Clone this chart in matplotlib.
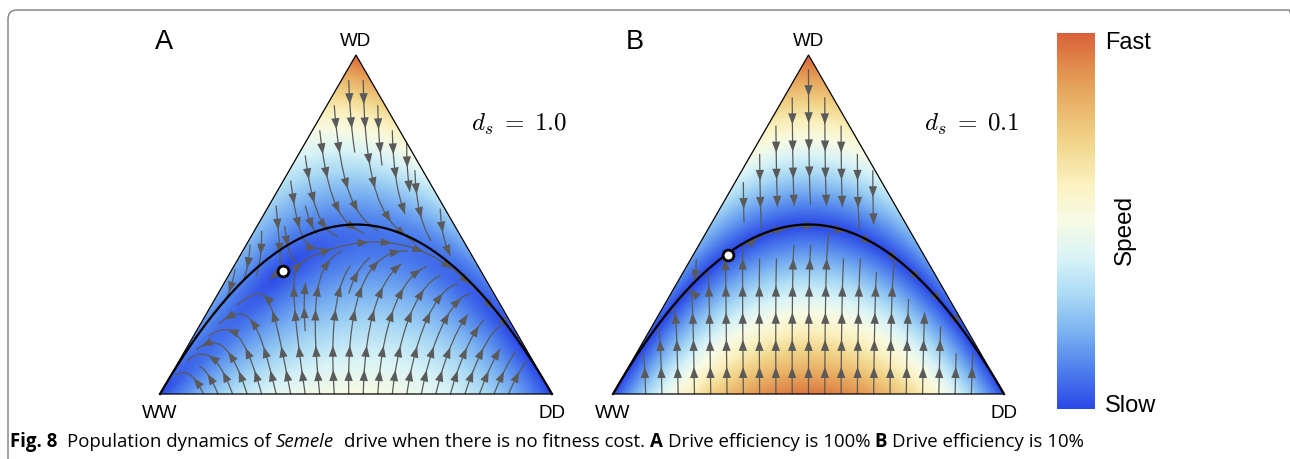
"""Semele drive dynamics on the genotype simplex: speed map + streamlines."""

import numpy as np
import matplotlib
matplotlib.use("Agg")
import matplotlib.pyplot as plt
from matplotlib.colors import LinearSegmentedColormap, Normalize
from matplotlib.cm import ScalarMappable
from matplotlib.patches import Polygon, FancyBboxPatch
from matplotlib.transforms import IdentityTransform

W, H = 1290, 459

panel_labels = ["A", "B"]
drive_efficiency = [1.0, 0.1]
ds_labels = [r"$d_s\;=\;1.0$", r"$d_s\;=\;0.1$"]
corner_labels = ["WW", "WD", "DD"]
# unstable equilibrium (WD, DD frequencies)
unstable_wd = [0.363, 0.41]
unstable_dd = [0.133, 0.089]
speed_colors = ["#2b47e6", "#4c7eec", "#79b0f1", "#a9d9f4", "#d8f3f7",
                "#f7fbe4", "#fbf1c0", "#f2d88e", "#eab86c", "#e2924f", "#d8613a"]
cbar_ends = ["Slow", "Fast"]
cbar_title = "Speed"
caption_runs = [
    ("Fig. 8", "bold", "normal"),
    ("  Population dynamics of ", "normal", "normal"),
    ("Semele", "normal", "italic"),
    ("  drive when there is no fitness cost. ", "normal", "normal"),
    ("A", "bold", "normal"),
    (" Drive efficiency is 100% ", "normal", "normal"),
    ("B", "bold", "normal"),
    (" Drive efficiency is 10%", "normal", "normal"),
]

# pixel frame of each triangle: left x, right x, base y, apex y
panel_px = [(160, 552, 394, 55), (613, 1004, 394, 55)]
stream_density = [0.95, 0.85]

S3 = np.sqrt(3) / 2
cmap = LinearSegmentedColormap.from_list("temperature", speed_colors)
cmap.set_bad((1, 1, 1, 0))
LABEL_FONT = ["Liberation Sans", "DejaVu Sans"]
LINE_GREY = "#5a5a5a"
plt.rcParams["mathtext.fontset"] = "cm"


def px(x, y):
    return x / W, 1 - y / H


def drive_field(X, Y, ds):
    """Velocity (in ternary plot coords) of genotype frequencies under random mating."""
    xwd = Y / S3
    xdd = X - xwd / 2
    xww = 1 - xdd - xwd
    x = [xww, xwd, xdd]
    qa = [0.0, 0.5, 1.0]
    off = [0.0, 0.0, 0.0]
    wbar = 0.0
    for f in range(3):
        for m in range(3):
            w = 1 - ds if (f == 0 and m > 0) else 1.0
            pm = x[f] * x[m] * w
            qf, qm = qa[f], qa[m]
            off[0] = off[0] + pm * (1 - qf) * (1 - qm)
            off[1] = off[1] + pm * (qf * (1 - qm) + (1 - qf) * qm)
            off[2] = off[2] + pm * qf * qm
            wbar = wbar + pm
    v = [off[i] - wbar * x[i] for i in range(3)]
    inside = (xww >= -1e-9) & (xdd >= -1e-9)
    return v[2] + v[1] / 2, v[1] * S3, inside


def add_arrows(ax, lines, clip, spacing=30.0, first=14.0):
    """Arrow heads every `spacing` px along each streamline."""
    to_px = ax.transData
    for seg in lines:
        if len(seg) < 3:
            continue
        p = to_px.transform(seg)
        d = np.hypot(*np.diff(p, axis=0).T)
        s = np.concatenate([[0], np.cumsum(d)])
        for target in np.arange(first, s[-1] - 4, spacing):
            k = np.searchsorted(s, target)
            k = min(max(k, 1), len(seg) - 1)
            a = ax.annotate("", xy=seg[k], xytext=seg[k - 1],
                            arrowprops=dict(arrowstyle="-|>,head_length=0.8,head_width=0.3",
                                            mutation_scale=10, fc=LINE_GREY, ec=LINE_GREY,
                                            lw=0, shrinkA=0, shrinkB=0))
            a.arrow_patch.set_clip_path(clip)


fig = plt.figure(figsize=(W / 100, H / 100), dpi=100)

m = 0.03
for i, ds in enumerate(drive_efficiency):
    l, r, b, t = panel_px[i]
    pw, ph = r - l, b - t
    ax = fig.add_axes([(l - m * pw) / W, (H - b - m * ph) / H,
                       pw * (1 + 2 * m) / W, ph * (1 + 2 * m) / H])
    ax.set_xlim(-m, 1 + m)
    ax.set_ylim(-m * S3, S3 + m * S3)
    ax.axis("off")

    tri = Polygon([[0, 0], [1, 0], [0.5, S3]], closed=True, transform=ax.transData)

    # speed background
    xf = np.linspace(0, 1, 500)
    yf = np.linspace(0, S3, 440)
    XF, YF = np.meshgrid(xf, yf)
    U, V, inside = drive_field(XF, YF, ds)
    speed = np.hypot(U, V)
    vmax = speed[inside].max()
    im = ax.imshow(np.ma.masked_where(~inside, speed), extent=(0, 1, 0, S3),
                   origin="lower", cmap=cmap, vmin=0, vmax=vmax,
                   interpolation="bilinear", aspect="auto")
    im.set_clip_path(tri)

    # streamlines
    xs = np.linspace(0, 1, 160)
    ys = np.linspace(0, S3, 140)
    XS, YS = np.meshgrid(xs, ys)
    U, V, inside = drive_field(XS, YS, ds)
    U = np.where(inside, U, np.nan)
    V = np.where(inside, V, np.nan)
    strm = ax.streamplot(xs, ys, U, V, density=stream_density[i], color=LINE_GREY,
                         linewidth=0.9, arrowstyle="-", minlength=0.08)
    strm.lines.set_clip_path(tri)
    for p in list(ax.patches):
        p.remove()
    add_arrows(ax, strm.lines.get_segments(), tri)

    ax.add_patch(Polygon([[0, 0], [1, 0], [0.5, S3]], closed=True, fill=False,
                         ec="black", lw=0.9, zorder=5))

    q = np.linspace(0, 1, 300)
    ax.plot(q, np.sqrt(3) * q * (1 - q), color="black", lw=1.6, zorder=6)
    ex = unstable_dd[i] + unstable_wd[i] / 2
    ey = unstable_wd[i] * S3
    ax.scatter([ex], [ey], s=60, facecolor="white", edgecolor="black",
               linewidth=2, zorder=7)

    fig.text(*px(l - 5 + (i * 18), 42), panel_labels[i], fontsize=19.5,
             family=LABEL_FONT, ha="left", va="center")
    fig.text(*px((l + r) / 2, 41), corner_labels[1], fontsize=13.5,
             family=LABEL_FONT, ha="center", va="center")
    fig.text(*px(l, 413), corner_labels[0], fontsize=13.5,
             family=LABEL_FONT, ha="center", va="center")
    fig.text(*px(r, 413), corner_labels[2], fontsize=13.5,
             family=LABEL_FONT, ha="center", va="center")
    fig.text(*px(r + 15, 124), ds_labels[i], fontsize=18, ha="right", va="center")

# colour bar
cax = fig.add_axes([1057 / W, 1 - 409 / H, 38 / W, 376 / H])
cb = fig.colorbar(ScalarMappable(norm=Normalize(0, 1), cmap=cmap), cax=cax)
cb.outline.set_visible(False)
cb.set_ticks([])
fig.text(*px(1105, 43), cbar_ends[1], fontsize=17, family=LABEL_FONT, ha="left", va="center")
fig.text(*px(1105, 406), cbar_ends[0], fontsize=17, family=LABEL_FONT, ha="left", va="center")
fig.text(*px(1125, 230), cbar_title, fontsize=17.5, family=LABEL_FONT, rotation=90,
         ha="center", va="center")

# frame
fig.add_artist(FancyBboxPatch((8, -20), 1290, H - 10 + 20,
                              boxstyle="round,pad=0,rounding_size=9",
                              transform=IdentityTransform(), fill=False,
                              ec="#7f7f7f", lw=1.0))


# caption, fitted to the reference width
def draw_caption(size, x0=10, y0=447):
    renderer = fig.canvas.get_renderer()
    fam = ["Open Sans", "DejaVu Sans"]
    probe = fig.text(0, 0, "x x", fontsize=size, family=fam)
    probe2 = fig.text(0, 0, "xx", fontsize=size, family=fam)
    sp = probe.get_window_extent(renderer).width - probe2.get_window_extent(renderer).width
    probe.remove()
    probe2.remove()
    arts = []
    x = x0
    for txt, weight, style in caption_runs:
        core = txt.strip(" ")
        lead = len(txt) - len(txt.lstrip(" "))
        trail = len(txt) - len(txt.rstrip(" "))
        x += lead * sp
        a = fig.text(*px(x, y0), core, fontsize=size, family=fam,
                     fontweight=weight, fontstyle=style, va="baseline")
        arts.append(a)
        x += a.get_window_extent(renderer).width + trail * sp
    return arts, x - x0


arts, width = draw_caption(11)
for a in arts:
    a.remove()
draw_caption(11 * 1073 / width)

fig.savefig("out.png", dpi=100)
